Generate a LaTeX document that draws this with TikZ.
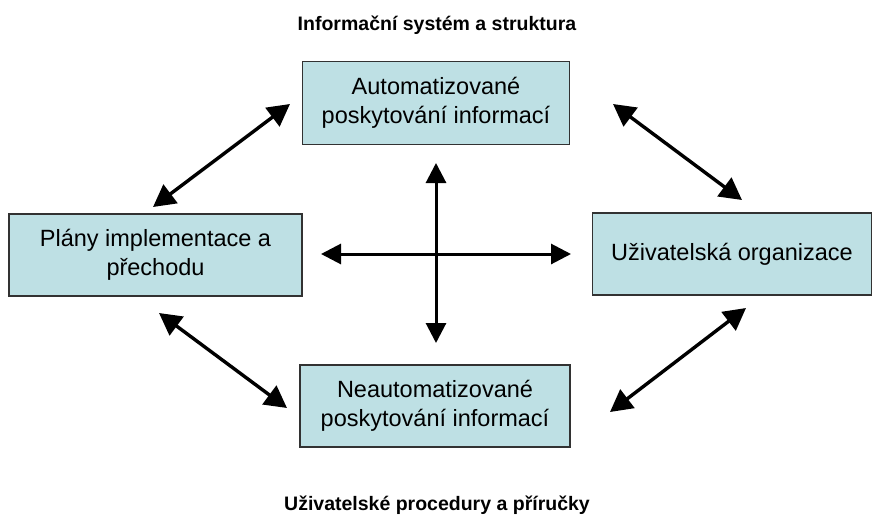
\documentclass[tikz,border=0pt]{standalone}
\usepackage{fontspec}
\setmainfont{Liberation Sans}
\usetikzlibrary{arrows.meta}
\definecolor{boxfill}{RGB}{190,224,228}
\definecolor{boxline}{RGB}{50,50,50}
\begin{document}
\begin{tikzpicture}[x=1pt,y=-1pt,
  infobox/.style={draw=boxline,line width=1.4pt,fill=boxfill,inner sep=0pt,
    align=center,font=\fontsize{23.5}{29}\selectfont},
  heading/.style={font=\fontsize{19.5}{22}\selectfont\bfseries},
  link/.style={line width=3.4pt,{Triangle[length=22pt,width=23pt]}-{Triangle[length=22pt,width=23pt]}},
  axis/.style={line width=3pt,{Triangle[length=20pt,width=20pt]}-{Triangle[length=20pt,width=20pt]}}]
\useasboundingbox (0,0) rectangle (875,519);

% headings
\node[heading] (toptitle) at (437,25) {Informační systém a struktura};
\node[heading] (bottitle) at (437,505) {Uživatelské procedury a příručky};

% four boxes
\node[infobox,minimum width=267pt,minimum height=83pt] (auto) at (436,103)
  {Automatizované\\poskytování informací};
\node[infobox,minimum width=293pt,minimum height=82pt] (plans) at (155.5,255)
  {Plány implementace a\\přechodu};
\node[infobox,minimum width=279pt,minimum height=82pt] (user) at (732,254)
  {Uživatelská organizace};
\node[infobox,minimum width=270pt,minimum height=82pt] (manual) at (435,406)
  {Neautomatizované\\poskytování informací};

% diagonal connector end points
\coordinate (a1) at (153,207);
\coordinate (a2) at (290,104);
\coordinate (b1) at (613,104);
\coordinate (b2) at (742,200);
\coordinate (c1) at (159,313);
\coordinate (c2) at (287,408);
\coordinate (d1) at (610,412);
\coordinate (d2) at (746,308);

\draw[link] (a1) -- (a2);
\draw[link] (b1) -- (b2);
\draw[link] (c1) -- (c2);
\draw[link] (d1) -- (d2);

% central cross
\coordinate (vt) at (436,163);
\coordinate (vb) at (436,343);
\coordinate (hl) at (321,254);
\coordinate (hr) at (571,254);
\draw[axis] (vt) -- (vb);
\draw[axis] (hl) -- (hr);
\end{tikzpicture}
\end{document}
